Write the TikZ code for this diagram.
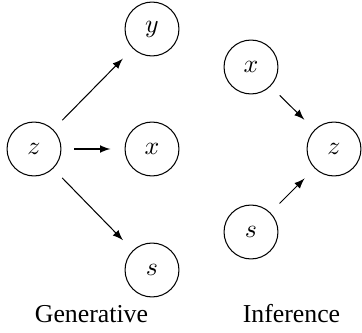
\documentclass[tikz,border=0pt]{standalone}
\usepackage{fontspec}
\setmainfont{Liberation Serif}
\usepackage{amsmath}
\usepackage{tikz}
\usetikzlibrary{arrows}
\tikzset{
    var/.style={circle, draw, minimum size=20.9pt, inner sep=0pt}, % every variable node
    >=latex, % filled arrow heads
}

\begin{document}
\begin{tikzpicture}[
                                x=0.3876pt, y=-0.3876pt,
                                link/.style={->, shorten <=5pt, shorten >=5.5pt},
                            ]
                            \useasboundingbox (0,0) rectangle (362,333);
                            % generative model
                            \node[var] (gz) at (34,149) {$z$};
                            \node[var] (gy) at (152,29) {$y$};
                            \node[var] (gx) at (152,149) {$x$};
                            \node[var] (gs) at (152,270) {$s$};
                            % inference model
                            \node[var] (ix) at (251,67) {$x$};
                            \node[var] (iz) at (334,149) {$z$};
                            \node[var] (is) at (251,232) {$s$};
                            \node[anchor=base] (lgen) at (91.5,322) {Generative};
                            \node[anchor=base] (linf) at (291.5,322) {Inference};
                            \draw
                            (gz) edge[link] (gy)
                            (gz) edge[link] (gx)
                            (gz) edge[link] (gs)

                            (ix) edge[link] (iz)
                            (is) edge[link] (iz);
                        \end{tikzpicture}
\end{document}
